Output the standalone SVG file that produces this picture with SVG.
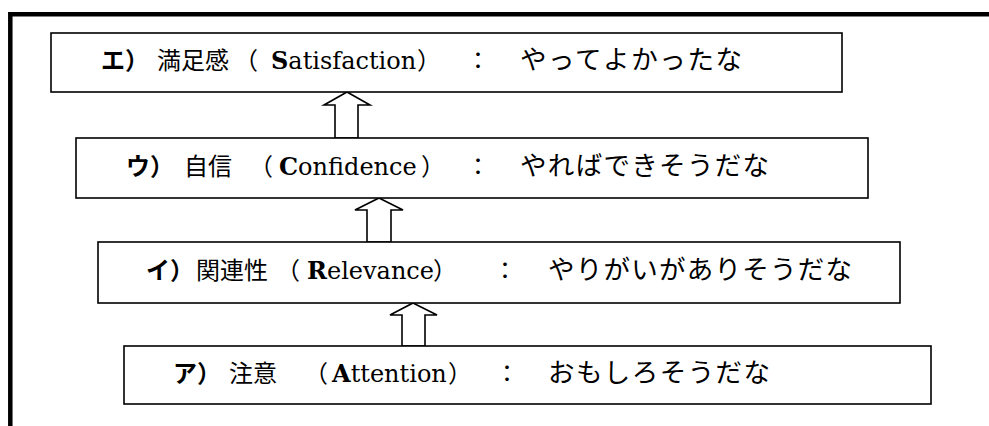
<svg xmlns="http://www.w3.org/2000/svg" width="989" height="426" viewBox="0 0 989 426">
<style>
.box{fill:#fff;stroke:#000;stroke-width:1.6}
.arr{fill:#fff;stroke:#000;stroke-width:1.6;stroke-linejoin:miter}
.frame{fill:none;stroke:#000;stroke-width:4.5}
text{font-family:"Noto Sans CJK JP",sans-serif;font-size:24px;fill:#000}
.pre{font-weight:700}
.lat{font-family:"DejaVu Serif","Liberation Serif",serif;font-size:24px}
.b{font-weight:700}
.kana{font-size:26.5px;font-weight:400}
</style>
<rect width="989" height="426" fill="#fff"/>
<g id="frame">
<path class="frame" d="M10.3 426 V14.2 H989"/>
</g>
<g id="connectors">
<path class="arr" d="M347 92 L370 105 L358 105 L358 138 L335 138 L335 105 L324 105 Z"/>
<path class="arr" d="M379 198 L403 210 L391 210 L391 242 L367 242 L367 210 L355 210 Z"/>
<path class="arr" d="M413 303 L437 315 L425 315 L425 346 L402 346 L402 315 L390 315 Z"/>
</g>
<g id="node-satisfaction">
<rect class="box" x="51" y="33" width="791" height="59"/>
<text y="69"><tspan class="pre" x="101">エ）</tspan><tspan x="157">満足感</tspan><tspan x="234">（</tspan><tspan class="lat" x="271"><tspan class="b">S</tspan>atisfaction</tspan><tspan x="417">）</tspan><tspan x="466">：</tspan><tspan class="kana" x="520" textLength="222" lengthAdjust="spacing">やってよかったな</tspan></text>
</g>
<g id="node-confidence">
<rect class="box" x="76" y="138" width="792" height="60"/>
<text y="175"><tspan class="pre" x="126">ウ）</tspan><tspan x="184">自信</tspan><tspan x="249">（</tspan><tspan class="lat" x="279"><tspan class="b">C</tspan>onfidence</tspan><tspan x="421">）</tspan><tspan x="466">：</tspan><tspan class="kana" x="520" textLength="249" lengthAdjust="spacing">やればできそうだな</tspan></text>
</g>
<g id="node-relevance">
<rect class="box" x="98" y="242" width="802" height="61"/>
<text y="279"><tspan class="pre" x="146">イ）</tspan><tspan x="196">関連性</tspan><tspan x="276">（</tspan><tspan class="lat" x="307"><tspan class="b">R</tspan>elevance</tspan><tspan x="433">）</tspan><tspan x="493">：</tspan><tspan class="kana" x="548" textLength="304" lengthAdjust="spacing">やりがいがありそうだな</tspan></text>
</g>
<g id="node-attention">
<rect class="box" x="124" y="346" width="807" height="58"/>
<text y="382"><tspan class="pre" x="173">ア）</tspan><tspan x="229">注意</tspan><tspan x="304">（</tspan><tspan class="lat" x="332"><tspan class="b">A</tspan>ttention</tspan><tspan x="448">）</tspan><tspan x="495">：</tspan><tspan class="kana" x="548" textLength="222" lengthAdjust="spacing">おもしろそうだな</tspan></text>
</g>
</svg>
